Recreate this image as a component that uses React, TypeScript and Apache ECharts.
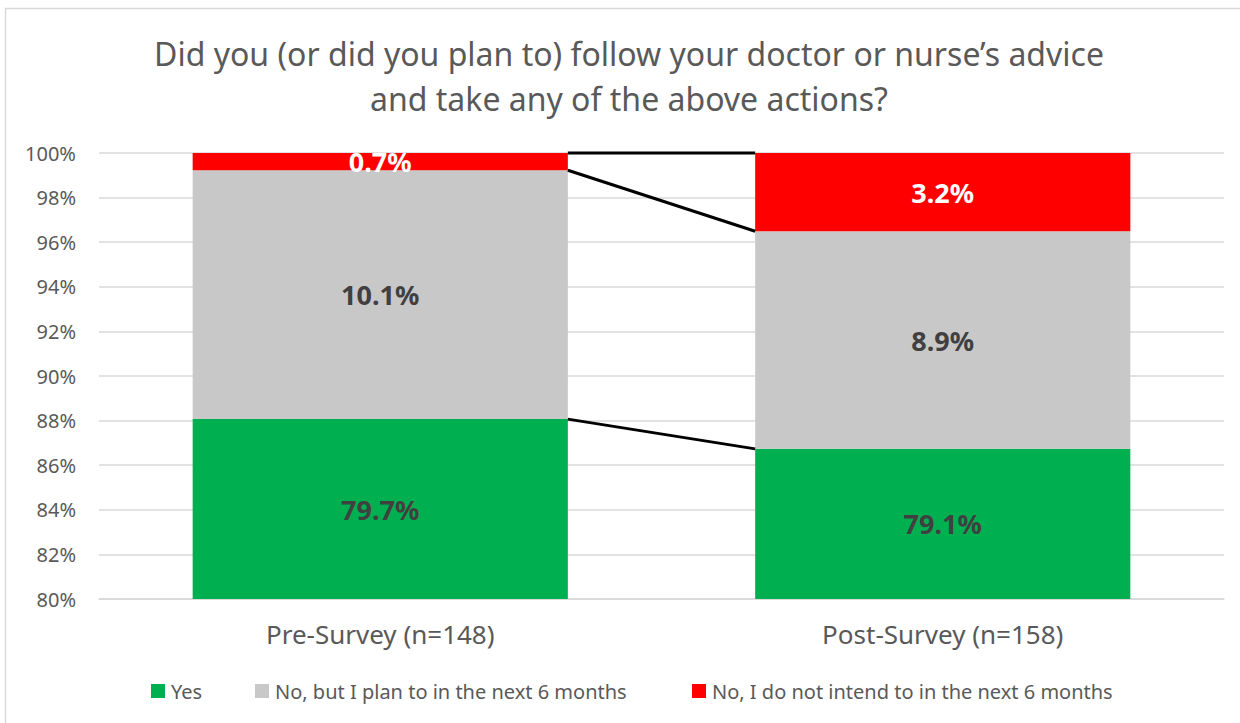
import React, { useEffect, useRef } from 'react';
import * as echarts from 'echarts';

const categories = ['Pre-Survey (n=148)', 'Post-Survey (n=158)'];
const seriesNames = [
  'Yes',
  'No, but I plan to in the next 6 months',
  'No, I do not intend to in the next 6 months',
];
const yesValues = [79.7, 79.1];
const planValues = [10.1, 8.9];
const notValues = [0.7, 3.2];
const seriesColors = ['#00B050', '#C8C8C8', '#FF0000'];
const labelColors = ['#404040', '#404040', '#FFFFFF'];
const titleLines = [
  'Did you (or did you plan to) follow your doctor or nurse\u2019s advice',
  'and take any of the above actions?',
];
const yMin = 80;
const yMax = 100;
const yInterval = 2;

const FONT = '"Noto Sans", "Open Sans", sans-serif';

export default function App() {
  const ref = useRef<HTMLDivElement>(null);

  useEffect(() => {
    document.body.style.margin = '0';
    if (!ref.current) return;
    const chart = echarts.init(ref.current, null, { renderer: 'svg' });

    const raw = [yesValues, planValues, notValues];
    const totals = categories.map((_, i) => raw.reduce((s, arr) => s + arr[i], 0));
    const shares = raw.map((arr) => arr.map((v, i) => (v / totals[i]) * 100));
    // cumulative tops for series lines
    const tops = shares.map((_, si) =>
      categories.map((__, ci) => shares.slice(0, si + 1).reduce((s, a) => s + a[ci], 0))
    );

    const barFrac = 0.667;

    const barSeries = seriesNames.map((name, si) => ({
      name,
      type: 'bar',
      stack: 'total',
      barWidth: '66.7%',
      itemStyle: { color: seriesColors[si] },
      data: shares[si],
      z: 2,
      label: {
        show: true,
        position: 'inside',
        formatter: (p: any) => raw[si][p.dataIndex].toFixed(1) + '%',
        color: labelColors[si],
        fontSize: 27,
        fontWeight: 'bold',
        fontFamily: FONT,
      },
    }));

    const connectorSeries = {
      type: 'custom',
      name: 'connectors',
      silent: true,
      z: 5,
      encode: { x: 0, y: [1, 2] },
      data: tops.map((t) => [0, t[0], t[1]]),
      renderItem: (params: any, api: any) => {
        const p0 = api.coord([0, api.value(1)]);
        const p1 = api.coord([1, api.value(2)]);
        const band = api.size([1, 0])[0];
        const half = (band * barFrac) / 2;
        return {
          type: 'line',
          shape: { x1: p0[0] + half, y1: p0[1], x2: p1[0] - half, y2: p1[1] },
          style: { stroke: '#000000', lineWidth: 3 },
        };
      },
    };

    const legendLefts = [146, 250, 687];
    const legends = seriesNames.map((name, i) => ({
      data: [name],
      left: legendLefts[i],
      top: 676,
      icon: 'rect',
      itemWidth: 14,
      itemHeight: 14,
      itemGap: 0,
      selectedMode: false,
      textStyle: { color: '#595959', fontSize: 20, fontFamily: FONT, padding: [0, 0, 0, 1] },
    }));

    chart.setOption({
      animation: false,
      backgroundColor: '#ffffff',
      textStyle: { fontFamily: FONT },
      graphic: [
        {
          type: 'rect',
          silent: true,
          shape: { x: 5.5, y: 8.5, width: 1240, height: 720 },
          style: { fill: 'none', stroke: '#D9D9D9', lineWidth: 1.5 },
        },
        {
          type: 'text',
          silent: true,
          x: 629,
          y: 53,
          style: {
            text: titleLines[0],
            align: 'center',
            verticalAlign: 'middle',
            fill: '#595959',
            fontSize: 32,
            fontFamily: FONT,
          },
        },
        {
          type: 'text',
          silent: true,
          x: 629,
          y: 98,
          style: {
            text: titleLines[1],
            align: 'center',
            verticalAlign: 'middle',
            fill: '#595959',
            fontSize: 32,
            fontFamily: FONT,
          },
        },
      ],
      legend: legends,
      grid: { left: 99, right: 16, top: 153, bottom: 124, containLabel: false },
      xAxis: {
        type: 'category',
        data: categories,
        axisTick: { show: false },
        axisLine: { show: true, lineStyle: { color: '#D9D9D9', width: 1.5 } },
        axisLabel: { color: '#595959', fontSize: 26, margin: 22, fontFamily: FONT },
      },
      yAxis: {
        type: 'value',
        min: yMin,
        max: yMax,
        interval: yInterval,
        axisLine: { show: false },
        axisTick: { show: false },
        splitLine: { lineStyle: { color: '#D9D9D9', width: 1.5 } },
        axisLabel: {
          color: '#595959',
          fontSize: 20,
          margin: 23,
          fontFamily: FONT,
          formatter: (v: number) => Math.round(v) + '%',
        },
      },
      series: [...barSeries, connectorSeries],
    });

    return () => chart.dispose();
  }, []);

  return <div ref={ref} style={{ width: 1240, height: 723 }} />;
}
